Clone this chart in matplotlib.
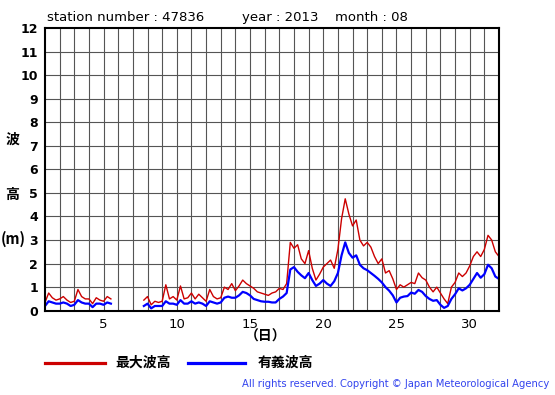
import numpy as np
import matplotlib
matplotlib.use("Agg")
import matplotlib.pyplot as plt

nan = np.nan

# time axis : day of month, every 6 hours
days = np.arange(1.0, 32.01, 0.25)

# max wave height (m)
max_wave = [
    0.35, 0.75, 0.55, 0.45,   # 1
    0.50, 0.60, 0.45, 0.35,   # 2
    0.40, 0.90, 0.60, 0.50,   # 3
    0.50, 0.30, 0.55, 0.45,   # 4
    0.40, 0.60, 0.50, nan,    # 5
    nan, nan, nan, nan,       # 6
    nan, nan, nan, 0.45,      # 7
    0.60, 0.25, 0.40, 0.35,   # 8
    0.40, 1.10, 0.50, 0.60,   # 9
    0.45, 1.05, 0.50, 0.55,   # 10
    0.75, 0.50, 0.70, 0.55,   # 11
    0.40, 0.90, 0.60, 0.50,   # 12
    0.55, 1.00, 0.90, 1.15,   # 13
    0.85, 1.05, 1.30, 1.15,   # 14
    1.05, 0.95, 0.80, 0.75,   # 15
    0.70, 0.65, 0.75, 0.80,   # 16
    0.95, 0.90, 1.15, 2.90,   # 17
    2.65, 2.80, 2.20, 2.00,   # 18
    2.55, 1.80, 1.30, 1.55,   # 19
    1.85, 2.00, 2.15, 1.80,   # 20
    2.60, 3.90, 4.75, 4.10,   # 21
    3.60, 3.85, 3.00, 2.75,   # 22
    2.90, 2.70, 2.30, 2.00,   # 23
    2.20, 1.60, 1.70, 1.35,   # 24
    0.90, 1.10, 1.00, 1.10,   # 25
    1.20, 1.15, 1.60, 1.40,   # 26
    1.30, 1.00, 0.80, 1.00,   # 27
    0.75, 0.50, 0.30, 1.00,   # 28
    1.20, 1.60, 1.45, 1.60,   # 29
    1.90, 2.30, 2.50, 2.30,   # 30
    2.60, 3.20, 3.00, 2.50,   # 31
    2.30,                     # 32
]

# significant wave height (m)
sig_wave = [
    0.20, 0.40, 0.35, 0.30,
    0.30, 0.35, 0.30, 0.20,
    0.25, 0.45, 0.35, 0.30,
    0.30, 0.15, 0.30, 0.30,
    0.25, 0.35, 0.30, nan,
    nan, nan, nan, nan,
    nan, nan, nan, 0.20,
    0.30, 0.10, 0.20, 0.20,
    0.20, 0.40, 0.30, 0.30,
    0.25, 0.45, 0.30, 0.30,
    0.40, 0.30, 0.35, 0.30,
    0.20, 0.40, 0.35, 0.30,
    0.35, 0.55, 0.60, 0.55,
    0.55, 0.65, 0.80, 0.75,
    0.65, 0.50, 0.45, 0.40,
    0.38, 0.38, 0.35, 0.35,
    0.50, 0.60, 0.75, 1.75,
    1.85, 1.65, 1.50, 1.38,
    1.60, 1.30, 1.05, 1.15,
    1.30, 1.15, 1.05, 1.25,
    1.60, 2.35, 2.90, 2.45,
    2.25, 2.35, 1.95, 1.80,
    1.72, 1.60, 1.48, 1.35,
    1.20, 1.00, 0.85, 0.65,
    0.35, 0.55, 0.60, 0.62,
    0.77, 0.72, 0.88, 0.80,
    0.62, 0.50, 0.42, 0.45,
    0.25, 0.12, 0.20, 0.50,
    0.70, 0.95, 0.86, 0.95,
    1.10, 1.35, 1.60, 1.40,
    1.55, 1.95, 1.80, 1.45,
    1.35,
]

x_ticks = [5, 10, 15, 20, 25, 30]
y_ticks = list(range(0, 13))

W, H = 555, 395
fig = plt.figure(figsize=(W / 100, H / 100), dpi=100)

def fx(px):
    return px / W

def fy(py):
    return 1 - py / H

ax = fig.add_axes([fx(45), fy(310.7), fx(499) - fx(45), fy(28) - fy(310.7)])
ax.plot(days, max_wave, color="#cc0000", lw=1.0)
ax.plot(days, sig_wave, color="#0000ff", lw=1.6)

ax.set_xlim(1, 32)
ax.set_ylim(0, 12)
for d in range(2, 32):
    ax.axvline(d, color="#555555", lw=0.8, zorder=0)
for v in range(1, 12):
    ax.axhline(v, color="#555555", lw=0.8, zorder=0)
for s in ax.spines.values():
    s.set_linewidth(1.5)

ax.set_xticks(x_ticks)
ax.set_xticklabels([str(t) for t in x_ticks], fontsize=9.5)
ax.set_yticks(y_ticks)
ax.set_yticklabels([str(t) for t in y_ticks], fontsize=9, fontweight="bold")
ax.tick_params(length=0, pad=5)

cjk = ["Noto Sans CJK JP", "DejaVu Sans"]

fig.text(fx(47), fy(21), "station number : 47836", fontsize=9.5, va="baseline")
fig.text(fx(242), fy(21), "year : 2013", fontsize=9.5, va="baseline")
fig.text(fx(335), fy(21), "month : 08", fontsize=9.5, va="baseline")

fig.text(fx(12), fy(140), "波", family=cjk, fontsize=10, fontweight="bold", ha="center", va="center")
fig.text(fx(12), fy(195), "高", family=cjk, fontsize=10, fontweight="bold", ha="center", va="center")
fig.text(fx(13), fy(239), "(m)", family=cjk, fontsize=10.5, fontweight="bold", ha="center", va="center")
fig.text(fx(266), fy(337), "（日）", family=cjk, fontsize=10, fontweight="bold", ha="center", va="center")

# legend drawn by hand below the chart
fig.add_artist(plt.Line2D([fx(45), fx(105)], [fy(363), fy(363)], color="#cc0000", lw=2.3))
fig.text(fx(115), fy(363), "最大波高", family=cjk, fontsize=10, fontweight="bold", va="center")
fig.add_artist(plt.Line2D([fx(188), fx(245)], [fy(363), fy(363)], color="#0000ff", lw=2.3))
fig.text(fx(258), fy(363), "有義波高", family=cjk, fontsize=10, fontweight="bold", va="center")

fig.text(fx(549), fy(384), "All rights reserved. Copyright © Japan Meteorological Agency",
         fontsize=7.2, color="#3344ee", ha="right", va="center")

fig.savefig("out.png", dpi=100)
